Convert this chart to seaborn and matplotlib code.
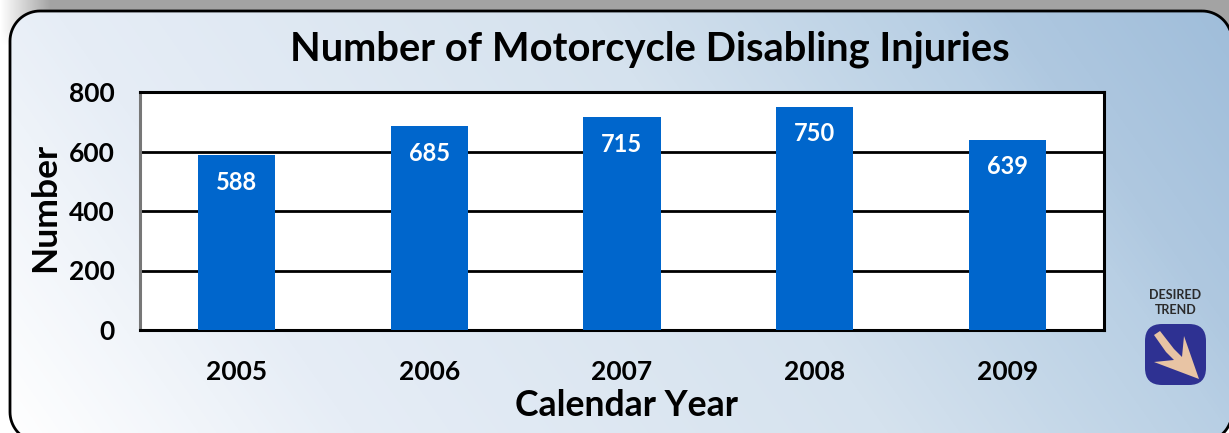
import numpy as np
import pandas as pd
import matplotlib
matplotlib.use("Agg")
import matplotlib.pyplot as plt
from matplotlib.colors import LinearSegmentedColormap
from matplotlib.patches import FancyBboxPatch, Polygon
import seaborn as sns

years = ["2005", "2006", "2007", "2008", "2009"]
injuries = [588, 685, 715, 750, 639]
y_ticks = [0, 200, 400, 600, 800]

W, H = 1229, 433


def rounded_rect(x0, y0, x1, y1, r):
    # corners as plain line segments, curves get mangled when clipped at the canvas edge
    t = np.linspace(0, np.pi / 2, 20)
    pts = []
    for cx, cy, a in [(x1 - r, y0 + r, -np.pi / 2), (x1 - r, y1 - r, 0),
                      (x0 + r, y1 - r, np.pi / 2), (x0 + r, y0 + r, np.pi)]:
        pts += list(zip(cx + r * np.cos(t + a), cy + r * np.sin(t + a)))
    return pts


sns.set_style("white")
plt.rcParams['font.family'] = ['Lato', 'DejaVu Sans']
plt.rcParams['font.weight'] = 'bold'

fig = plt.figure(figsize=(W / 100, H / 100), dpi=100, facecolor="white")

# background layer in pixel coordinates
bg = fig.add_axes([0, 0, 1, 1], zorder=0)
bg.set_xlim(0, W)
bg.set_ylim(H, 0)
bg.axis("off")

# grey band behind the panel, fading out on the left
xx, yy = np.meshgrid(np.linspace(0, 1, W), np.linspace(0, 1, H))
fade = np.clip(np.arange(W) / 50, 0, 1)[None, :] * np.ones((H, 1))
fade = fade * np.clip((45 - np.arange(H)[:, None]) / 15, 0, 1)
grey = np.dstack([np.full((H, W), 0.64)] * 3 + [fade])
bg.imshow(grey, extent=(0, W, H, 0), aspect="auto", zorder=0)

# panel with diagonal gradient
cmap = LinearSegmentedColormap.from_list(
    "panel", [(0, "#ffffff"), (0.23, "#e6edf6"), (0.58, "#d5e2ee"), (0.8, "#b8cfe4"),
              (0.85, "#afc8e0"), (1, "#9fbdda")])
grad = 0.8 * xx + 0.2 * (1 - yy)
panel_pts = rounded_rect(10, 11, 1232, 442, 30)
panel = Polygon(panel_pts, closed=True, fc="none", ec="none", zorder=1)
bg.add_patch(panel)
im = bg.imshow(grad, extent=(0, W, H, 0), aspect="auto", cmap=cmap, vmin=0, vmax=1, zorder=1)
im.set_clip_path(panel)
bg.add_patch(Polygon(panel_pts, closed=True, fc="none", ec="black", lw=2, zorder=2))
bg.set_xlim(0, W)
bg.set_ylim(H, 0)

# desired trend icon
bg.text(1175.5, 295, "DESIRED", ha="center", va="center", fontsize=9, fontweight="bold", color="#2b2b2b")
bg.text(1175.5, 310, "TREND", ha="center", va="center", fontsize=9, fontweight="bold", color="#2b2b2b")
bg.add_patch(FancyBboxPatch((1145, 324), 61, 61, boxstyle="round,pad=0,rounding_size=17",
                            fc="#2e3192", ec="none", zorder=3))
bg.add_patch(Polygon([(1154, 335), (1160, 331), (1174, 349), (1182, 357), (1184, 336),
                      (1199, 379), (1154, 362), (1174, 360), (1166, 352)],
                     closed=True, fc="#e8c4a4", ec="none", zorder=4))

# chart
ax = fig.add_axes([140 / W, 1 - 330 / H, 964 / W, 238 / H], zorder=2, facecolor="white")
df = pd.DataFrame({"year": years, "injuries": injuries})
sns.barplot(data=df, x="year", y="injuries", color="#0066cc", saturation=1, width=0.4,
            linewidth=0, edgecolor="none", ax=ax, zorder=3)

ax.set_xlim(-0.5, 4.5)
ax.set_ylim(0, 800)
ax.set_yticks(y_ticks)
ax.grid(False)
ax.yaxis.grid(True, color="black", lw=2)
ax.set_axisbelow(True)
for s in ["top", "right", "bottom"]:
    ax.spines[s].set_visible(True)
    ax.spines[s].set_color("black")
    ax.spines[s].set_linewidth(2.2)
ax.spines["left"].set_visible(True)
ax.spines["left"].set_color("#777777")
ax.spines["left"].set_linewidth(2.2)

ax.tick_params(axis="y", length=0, pad=18, labelsize=19, labelcolor="black")
ax.tick_params(axis="x", length=0, pad=21.5, labelsize=19, labelcolor="black")
ax.set_xlabel("Calendar Year", fontsize=25.7, fontweight="bold", color="black", labelpad=4)
ax.set_ylabel("Number", fontsize=25.5, fontweight="bold", color="black", labelpad=6)
ax.xaxis.label.set_x(0.5047)
ax.yaxis.label.set_y(0.515)

for i, v in enumerate(injuries):
    ax.annotate(str(v), (i, v), xytext=(0, -27), textcoords="offset pixels",
                ha="center", va="center", color="white", fontsize=17, fontweight="bold", zorder=5)

fig.text(650 / W, 1 - 49 / H, "Number of Motorcycle Disabling Injuries", ha="center", va="center",
         fontsize=28.7, fontweight="bold", color="black", zorder=5)

fig.savefig("out.png", dpi=100)
